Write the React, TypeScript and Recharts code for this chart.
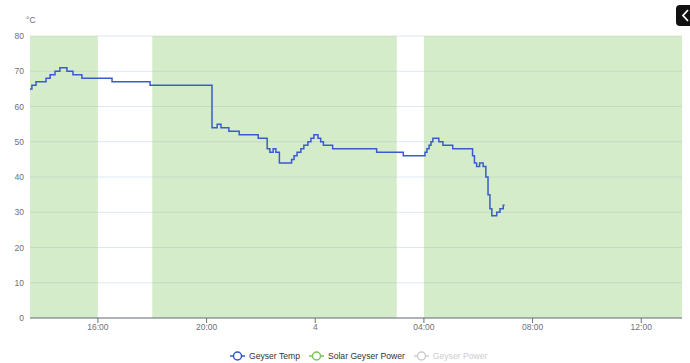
import {
  LineChart,
  Line,
  XAxis,
  YAxis,
  CartesianGrid,
  ReferenceArea,
} from 'recharts';

// hours since midnight of the first day (24+ = next day)
const times = [
  13.5, 13.57, 13.72, 14.09, 14.24, 14.42, 14.6, 14.86, 15.08, 15.41, 16.52, 17.92,
  20.2, 20.39, 20.53, 20.82, 21.2, 21.9, 22.23, 22.33, 22.45, 22.55, 22.68,
  23.13, 23.22, 23.33, 23.47, 23.58, 23.73, 23.84, 23.95, 24.1, 24.2, 24.3, 24.64,
  26.26, 27.24, 28.04, 28.11, 28.19, 28.26, 28.33, 28.55, 28.7, 29.06,
  29.79, 29.86, 29.94, 30.05, 30.18, 30.28, 30.36, 30.43, 30.5, 30.68, 30.8, 30.92, 30.97,
];
const geyserTemp = [
  65, 66, 67, 68, 69, 70, 71, 70, 69, 68, 67, 66,
  54, 55, 54, 53, 52, 51, 48, 47, 48, 47, 44,
  45, 46, 47, 48, 49, 50, 51, 52, 51, 50, 49, 48,
  47, 46, 47, 48, 49, 50, 51, 50, 49, 48,
  46, 44, 43, 44, 43, 40, 35, 31, 29, 30, 31, 32, 32,
];

// periods where solar power was on
const solarStart = [13.5, 18, 28];
const solarEnd = [16, 27, 37.5];

const xTicks = [16, 20, 24, 28, 32, 36];
const xTickLabels = ['16:00', '20:00', '4', '04:00', '08:00', '12:00'];
const yTicks = [0, 10, 20, 30, 40, 50, 60, 70, 80];

const legendNames = ['Geyser Temp', 'Solar Geyser Power', 'Geyser Power'];
const legendColors = ['#3557c9', '#7cc35a', '#cccccc'];
const legendText = ['#333', '#333', '#ccc'];

const FONT = '"Liberation Sans", Arial, sans-serif';
const AXIS_GREY = '#6e7079';

const data = times.map((t, i) => ({ t, temp: geyserTemp[i] }));

function LegendIcon({ color }: { color: string }) {
  return (
    <svg width={15} height={10} style={{ display: 'block' }}>
      <line x1={0} y1={5} x2={15} y2={5} stroke={color} strokeWidth={1.5} />
      <circle cx={7.5} cy={5} r={4} fill="#fff" stroke={color} strokeWidth={1.5} />
    </svg>
  );
}

export default function App() {
  return (
    <div style={{ position: 'absolute', left: 0, top: 0, width: 690, height: 363, background: '#fff', fontFamily: FONT, overflow: 'hidden' }}>
      <LineChart width={690} height={363} data={data} margin={{ top: 36, right: 8, bottom: 15, left: 0 }}>
        <CartesianGrid vertical={false} stroke="#e0e6f1" />
        {solarStart.map((s, i) => (
          <ReferenceArea
            key={i}
            x1={s}
            x2={solarEnd[i]}
            y1={0}
            y2={80}
            fill="#91cc75"
            fillOpacity={0.38}
            stroke="none"
          />
        ))}
        <XAxis
          type="number"
          dataKey="t"
          domain={[13.5, 37.5]}
          ticks={xTicks}
          tickFormatter={(v: number) => xTickLabels[xTicks.indexOf(v)]}
          height={30}
          stroke={AXIS_GREY}
          tickSize={5}
          tickMargin={1}
          tick={{ fontSize: 8.5, fill: AXIS_GREY, fontFamily: FONT }}
          allowDataOverflow
        />
        <YAxis
          domain={[0, 80]}
          ticks={yTicks}
          width={30}
          axisLine={false}
          tickLine={false}
          tickSize={0}
          tickMargin={6}
          tick={{ fontSize: 8.5, fill: AXIS_GREY, fontFamily: FONT }}
        />
        <Line
          type="stepAfter"
          dataKey="temp"
          stroke="#3a5bcb"
          strokeWidth={1.5}
          dot={false}
          isAnimationActive={false}
        />
      </LineChart>

      <div style={{ position: 'absolute', left: 26, top: 15, fontSize: 8.5, color: AXIS_GREY }}>°C</div>

      <div
        style={{
          position: 'absolute',
          left: 230,
          top: 351,
          display: 'flex',
          alignItems: 'center',
          gap: 9,
          fontSize: 8.6,
        }}
      >
        {legendNames.map((name, i) => (
          <div key={name} style={{ display: 'flex', alignItems: 'center', gap: 4, color: legendText[i] }}>
            <LegendIcon color={legendColors[i]} />
            <span>{name}</span>
          </div>
        ))}
      </div>

      {/* collapse button, partly off-screen */}
      <svg style={{ position: 'absolute', left: 676, top: 5 }} width={22} height={21}>
        <rect x={0} y={0} width={22} height={21} rx={4} fill="#111" />
        <polyline points="12,5 7,10.5 12,16" fill="none" stroke="#fff" strokeWidth={1.8} />
      </svg>
    </div>
  );
}
